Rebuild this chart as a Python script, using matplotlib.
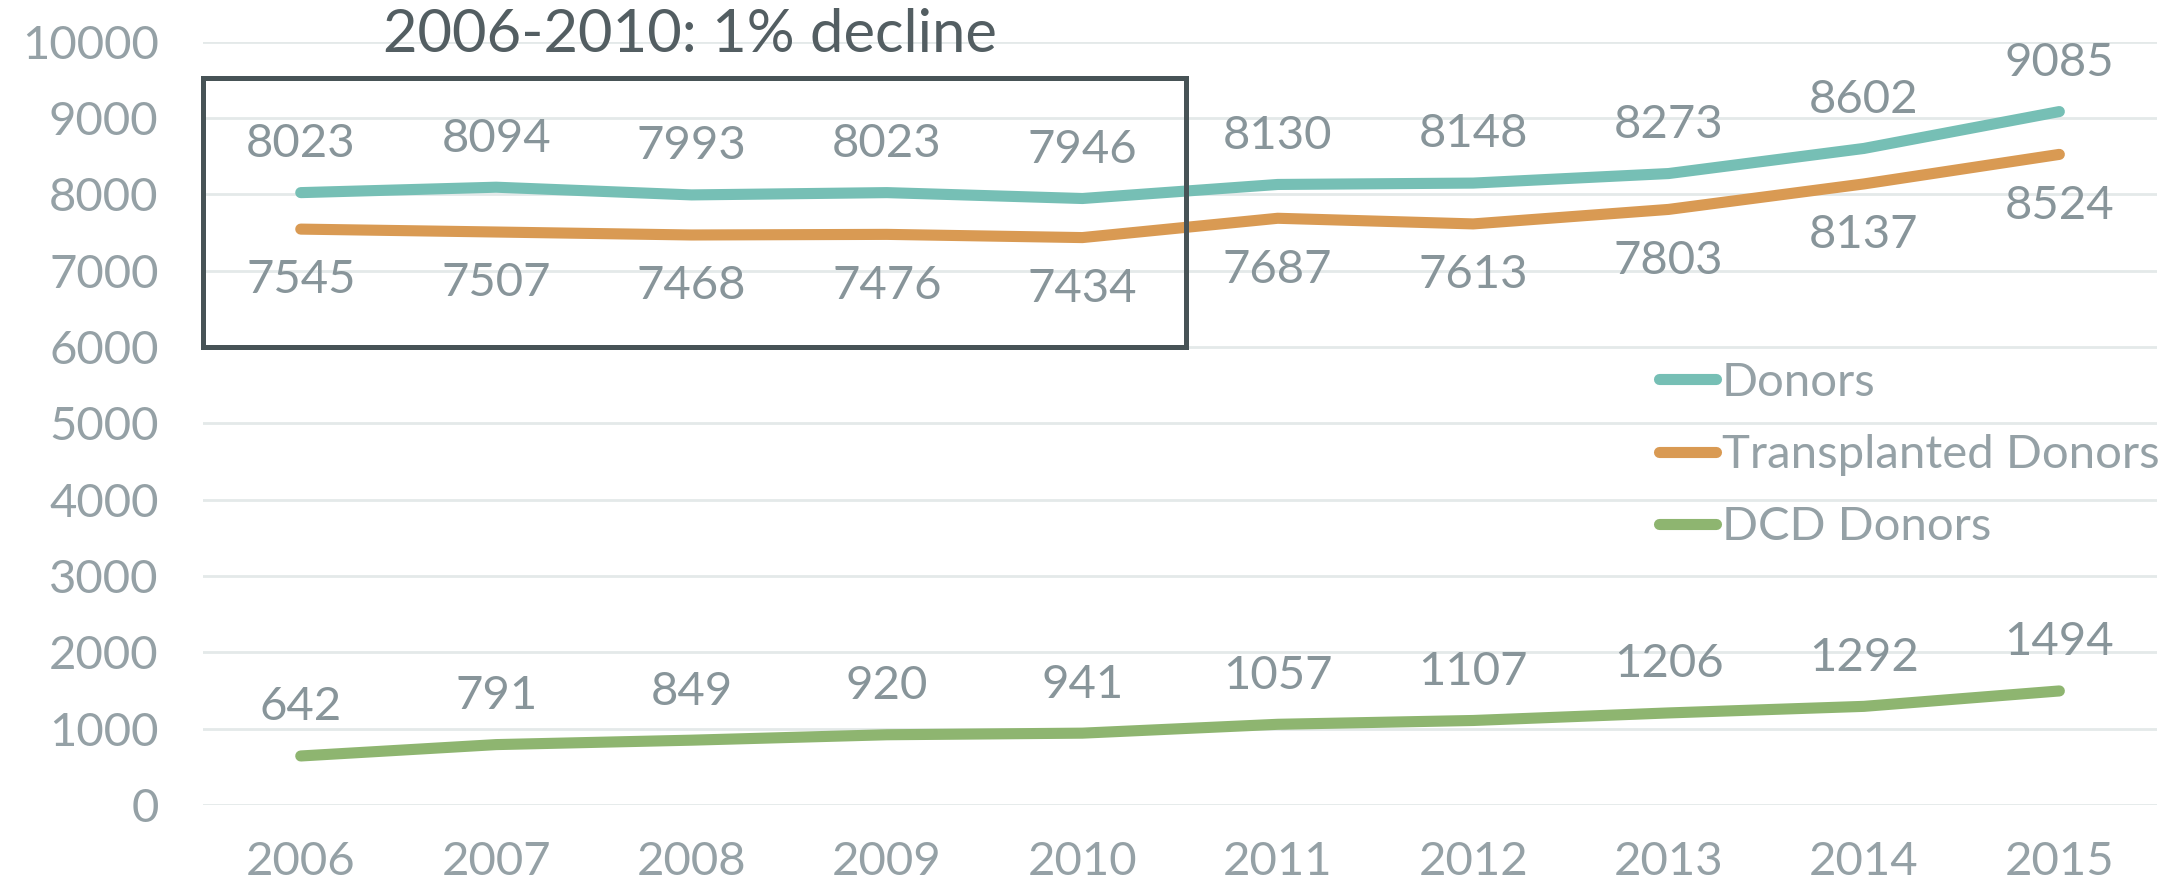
import matplotlib.pyplot as plt
from matplotlib.patches import Rectangle

# donor counts by year
m_years = ['2006', '2007', '2008', '2009', '2010', '2011', '2012', '2013', '2014', '2015']
m_donors = [8023, 8094, 7993, 8023, 7946, 8130, 8148, 8273, 8602, 9085]
m_transplanted = [7545, 7507, 7468, 7476, 7434, 7687, 7613, 7803, 8137, 8524]
m_dcd = [642, 791, 849, 920, 941, 1057, 1107, 1206, 1292, 1494]
m_yTicks = [0, 1000, 2000, 3000, 4000, 5000, 6000, 7000, 8000, 9000, 10000]

m_colorList = ["#76bfb5", "#d99a53", "#8eb570"]
m_labelColor = "#88959a"
m_tickColor = "#95a1a6"

plt.rcParams['font.family'] = ['Lato', 'DejaVu Sans']

fig = plt.figure(figsize=(21.74, 8.88), dpi=100)
ax = fig.add_axes([0.0934, 0.0935, 0.8988, 0.8595])

x = list(range(len(m_years)))
l1, = ax.plot(x, m_donors, color=m_colorList[0], linewidth=8, solid_capstyle='round', zorder=3)
l2, = ax.plot(x, m_transplanted, color=m_colorList[1], linewidth=8, solid_capstyle='round', zorder=3)
l3, = ax.plot(x, m_dcd, color=m_colorList[2], linewidth=8, solid_capstyle='round', zorder=3)

# data labels
for i in x:
    ax.annotate(str(m_donors[i]), (i, m_donors[i]), xytext=(0, 35), textcoords='offset points',
                ha='center', va='center', fontsize=34, color=m_labelColor)
    ax.annotate(str(m_transplanted[i]), (i, m_transplanted[i]), xytext=(0, -37), textcoords='offset points',
                ha='center', va='center', fontsize=34, color=m_labelColor)
    ax.annotate(str(m_dcd[i]), (i, m_dcd[i]), xytext=(0, 35), textcoords='offset points',
                ha='center', va='center', fontsize=34, color=m_labelColor)

ax.set_xlim(-0.5, 9.5)
ax.set_ylim(0, 10000)
ax.set_xticks(x)
ax.set_xticklabels(m_years)
ax.set_yticks(m_yTicks)
ax.tick_params(axis='both', length=0, labelsize=34, labelcolor=m_tickColor)
ax.tick_params(axis='y', pad=32)
ax.tick_params(axis='x', pad=26)
for s in ax.spines.values():
    s.set_visible(False)
ax.yaxis.grid(True, color='#e4e9e9', linewidth=2)
ax.set_axisbelow(True)

# box round 2006-2010
ax.add_patch(Rectangle((-0.5, 6000), 5.03, 3520, fill=False, edgecolor='#475356',
                       linewidth=3.6, clip_on=False, zorder=4))
fig.text(690 / 2174, 1 - 35 / 888, '2006-2010: 1% decline', ha='center', va='center',
         fontsize=43, color='#535e62')

leg = ax.legend(handles=[l1, l2, l3], labels=['Donors', 'Transplanted Donors', 'DCD Donors'],
                loc='upper left', bbox_to_anchor=(1659 / 2174, 1 - 362 / 888), bbox_transform=fig.transFigure,
                frameon=False, fontsize=34, handlelength=1.2, handletextpad=0.13, labelspacing=0.64,
                borderpad=0, borderaxespad=0)
for t in leg.get_texts():
    t.set_color(m_tickColor)

plt.savefig('out.png', dpi=100)
